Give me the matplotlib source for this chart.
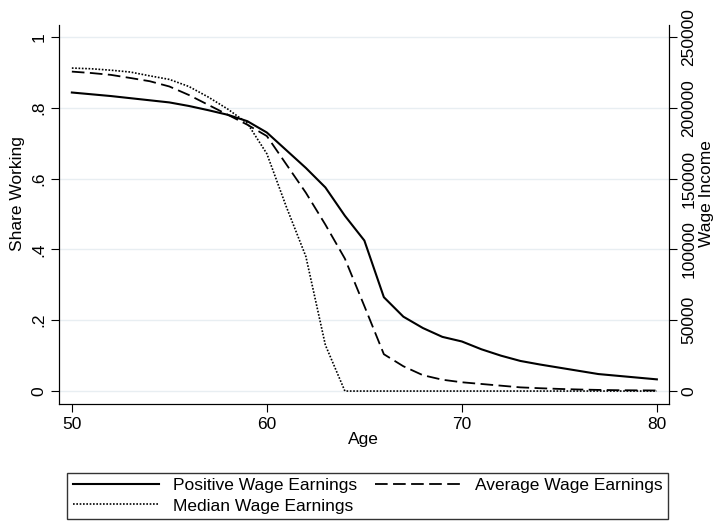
import matplotlib.pyplot as plt

plt.rcParams["font.family"] = ["Liberation Sans", "DejaVu Sans"]

ages = list(range(50, 81))
share_working = [0.843, 0.838, 0.833, 0.827, 0.821, 0.815, 0.805, 0.793, 0.78, 0.762, 0.73,
                 0.68, 0.63, 0.575, 0.495, 0.425, 0.265, 0.21, 0.178, 0.153, 0.14,
                 0.118, 0.1, 0.085, 0.075, 0.066, 0.057, 0.048, 0.043, 0.038, 0.033]
avg_wage = [225500, 224500, 223200, 221000, 218700, 215000, 209000, 202000, 195000, 188000, 180000,
            160000, 140000, 117500, 93500, 60000, 26000, 17500, 11200, 8000, 6200,
            5000, 3800, 2600, 2000, 1500, 1100, 800, 600, 500, 400]
median_wage = [228000, 227500, 226500, 225200, 222500, 220000, 215000, 207500, 199000, 189000, 167500,
               130000, 95000, 32500, 0, 0, 0, 0, 0, 0, 0,
               0, 0, 0, 0, 0, 0, 0, 0, 0, 0]

fig = plt.figure(figsize=(7.17, 5.29), dpi=100)
ax = fig.add_axes([0.082, 0.236, 0.851, 0.717])
ax2 = ax.twinx()

l1, = ax.plot(ages, share_working, color="black", lw=1.5, label="Positive Wage Earnings")
l2, = ax2.plot(ages, avg_wage, color="black", lw=1.3, ls=(0, (7, 3)), label="Average Wage Earnings")
l3, = ax2.plot(ages, median_wage, color="black", lw=1.2, ls=(0, (1, 1)), label="Median Wage Earnings")

ax.set_xlim(49.33, 80.62)
ax.set_ylim(-0.037, 1.034)
ax2.set_ylim(-0.037 * 250000, 1.034 * 250000)
for a in (ax, ax2):
    a.spines["top"].set_visible(False)
ax.set_xticks([50, 60, 70, 80])
ax.set_yticks([0, 0.2, 0.4, 0.6, 0.8, 1])
ax.set_yticklabels(["0", ".2", ".4", ".6", ".8", "1"], rotation=90, va="center")
ax2.set_yticks([0, 50000, 100000, 150000, 200000, 250000])
ax2.set_yticklabels(["0", "50000", "100000", "150000", "200000", "250000"], rotation=90, va="center")
for a in (ax, ax2):
    a.tick_params(labelsize=12.5, pad=3, length=6)
ax.set_xlabel("Age", fontsize=12.5, labelpad=0)
ax.set_ylabel("Share Working", fontsize=12.5)
ax.yaxis.set_label_coords(-0.055, 0.555)
ax2.set_ylabel("Wage Income", fontsize=12.5, rotation=90)
ax2.yaxis.set_label_coords(1.05, 0.555)
ax.yaxis.grid(True, color="#e8eef2", lw=1)
ax.set_axisbelow(True)

fig.legend(handles=[l1, l3, l2], loc="lower center", bbox_to_anchor=(0.513, 0.003), ncol=2,
           fontsize=12.5, frameon=True, fancybox=False, edgecolor="black",
           handlelength=5, columnspacing=1.0, borderpad=0.3, labelspacing=0.3)

fig.savefig("out.png", dpi=100)
